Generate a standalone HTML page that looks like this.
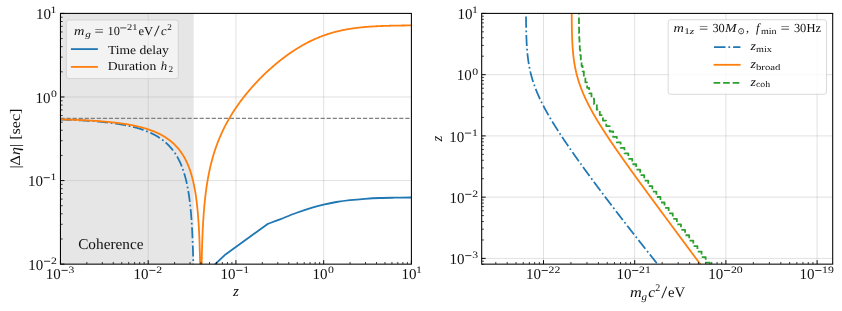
<!DOCTYPE html>
<html><head><meta charset="utf-8"><title>plot</title>
<style>html,body{margin:0;padding:0;background:#fff}body{width:842px;height:311px;overflow:hidden;font-family:"Liberation Serif",serif}</style>
</head><body>
<svg width="842" height="311" viewBox="0 0 842 311" style="display:block;will-change:transform" text-rendering="geometricPrecision">
<defs><clipPath id="c1"><rect x="60.45" y="13.40" width="350.95" height="250.75"/></clipPath><clipPath id="c2"><rect x="481.70" y="13.40" width="351.00" height="250.75"/></clipPath></defs>
<rect width="842" height="311" fill="#fff"/>
<rect x="60.45" y="13.4" width="133.25" height="250.75" fill="#808080" fill-opacity="0.2"/>
<line x1="148.19" y1="13.4" x2="148.19" y2="264.15" stroke="#b0b0b0" stroke-opacity="0.4" stroke-width="0.97"/>
<line x1="235.93" y1="13.4" x2="235.93" y2="264.15" stroke="#b0b0b0" stroke-opacity="0.4" stroke-width="0.97"/>
<line x1="323.66" y1="13.4" x2="323.66" y2="264.15" stroke="#b0b0b0" stroke-opacity="0.4" stroke-width="0.97"/>
<line x1="60.45" y1="180.57" x2="411.4" y2="180.57" stroke="#b0b0b0" stroke-opacity="0.4" stroke-width="0.97"/>
<line x1="60.45" y1="96.98" x2="411.4" y2="96.98" stroke="#b0b0b0" stroke-opacity="0.4" stroke-width="0.97"/>
<line x1="543.50" y1="13.4" x2="543.50" y2="264.15" stroke="#b0b0b0" stroke-opacity="0.4" stroke-width="0.97"/>
<line x1="634.70" y1="13.4" x2="634.70" y2="264.15" stroke="#b0b0b0" stroke-opacity="0.4" stroke-width="0.97"/>
<line x1="725.90" y1="13.4" x2="725.90" y2="264.15" stroke="#b0b0b0" stroke-opacity="0.4" stroke-width="0.97"/>
<line x1="817.10" y1="13.4" x2="817.10" y2="264.15" stroke="#b0b0b0" stroke-opacity="0.4" stroke-width="0.97"/>
<line x1="481.7" y1="258.40" x2="832.7" y2="258.40" stroke="#b0b0b0" stroke-opacity="0.4" stroke-width="0.97"/>
<line x1="481.7" y1="197.15" x2="832.7" y2="197.15" stroke="#b0b0b0" stroke-opacity="0.4" stroke-width="0.97"/>
<line x1="481.7" y1="135.90" x2="832.7" y2="135.90" stroke="#b0b0b0" stroke-opacity="0.4" stroke-width="0.97"/>
<line x1="481.7" y1="74.65" x2="832.7" y2="74.65" stroke="#b0b0b0" stroke-opacity="0.4" stroke-width="0.97"/>
<g clip-path="url(#c1)" fill="none" stroke-width="1.80" stroke-linejoin="round">
<line x1="60.45" y1="118.3" x2="411.4" y2="118.3" stroke="#808080" stroke-width="1.15" stroke-dasharray="4.2 1.85"/>
<path d="M214.4,265.0 L225.5,254.4 L268.0,223.8  C270.00,223.05 275.32,221.10 280.00,219.30 C284.68,217.50 290.73,214.95 296.10,213.00 C301.47,211.05 307.63,209.00 312.20,207.60 C316.77,206.20 319.48,205.53 323.50,204.60 C327.52,203.67 331.88,202.75 336.30,202.00 C340.72,201.25 345.22,200.63 350.00,200.10 C354.78,199.57 360.00,199.15 365.00,198.80 C370.00,198.45 375.00,198.18 380.00,198.00 C385.00,197.82 389.77,197.78 395.00,197.70 C400.23,197.62 408.67,197.53 411.40,197.50" stroke="#1f77b4"/>
<path d="M60.45,119.57 L61.12,119.59 L61.78,119.61 L62.45,119.64 L63.11,119.66 L63.78,119.68 L64.44,119.70 L65.11,119.73 L65.77,119.75 L66.44,119.77 L67.10,119.80 L67.77,119.82 L68.43,119.85 L69.10,119.87 L69.77,119.90 L70.43,119.92 L71.10,119.95 L71.76,119.98 L72.43,120.01 L73.09,120.04 L73.76,120.06 L74.42,120.09 L75.09,120.12 L75.75,120.16 L76.42,120.19 L77.09,120.22 L77.75,120.25 L78.42,120.28 L79.08,120.32 L79.75,120.35 L80.41,120.39 L81.08,120.42 L81.74,120.46 L82.41,120.49 L83.07,120.53 L83.74,120.57 L84.40,120.61 L85.07,120.65 L85.74,120.69 L86.40,120.73 L87.07,120.77 L87.73,120.82 L88.40,120.86 L89.06,120.90 L89.73,120.95 L90.39,120.99 L91.06,121.04 L91.72,121.09 L92.39,121.14 L93.05,121.19 L93.72,121.24 L94.39,121.29 L95.05,121.34 L95.72,121.39 L96.38,121.45 L97.05,121.50 L97.71,121.56 L98.38,121.62 L99.04,121.68 L99.71,121.74 L100.37,121.80 L101.04,121.86 L101.70,121.92 L102.37,121.99 L103.04,122.05 L103.70,122.12 L104.37,122.19 L105.03,122.26 L105.70,122.33 L106.36,122.40 L107.03,122.48 L107.69,122.55 L108.36,122.63 L109.02,122.71 L109.69,122.79 L110.36,122.87 L111.02,122.95 L111.69,123.04 L112.35,123.12 L113.02,123.21 L113.68,123.30 L114.35,123.39 L115.01,123.49 L115.68,123.58 L116.34,123.68 L117.01,123.78 L117.67,123.88 L118.34,123.98 L119.01,124.09 L119.67,124.20 L120.34,124.31 L121.00,124.42 L121.67,124.53 L122.33,124.65 L123.00,124.77 L123.66,124.89 L124.33,125.01 L124.99,125.14 L125.66,125.27 L126.32,125.40 L126.99,125.54 L127.66,125.67 L128.32,125.81 L128.99,125.96 L129.65,126.11 L130.32,126.26 L130.98,126.41 L131.65,126.56 L132.31,126.72 L132.98,126.89 L133.64,127.05 L134.31,127.23 L134.97,127.40 L135.64,127.58 L136.31,127.76 L136.97,127.95 L137.64,128.14 L138.30,128.33 L138.97,128.53 L139.63,128.74 L140.30,128.94 L140.96,129.16 L141.63,129.38 L142.29,129.60 L142.96,129.83 L143.63,130.06 L144.29,130.30 L144.96,130.55 L145.62,130.80 L146.29,131.06 L146.95,131.32 L147.62,131.59 L148.28,131.87 L148.95,132.15 L149.61,132.45 L150.28,132.75 L150.94,133.05 L151.61,133.37 L152.28,133.69 L152.94,134.02 L153.61,134.36 L154.27,134.71 L154.94,135.07 L155.60,135.44 L156.27,135.82 L156.93,136.20 L157.60,136.60 L158.26,137.02 L158.93,137.44 L159.59,137.88 L160.26,138.32 L160.93,138.79 L161.59,139.26 L162.26,139.75 L162.92,140.26 L163.59,140.78 L164.25,141.32 L164.92,141.87 L165.58,142.45 L166.25,143.04 L166.91,143.66 L167.58,144.29 L168.24,144.95 L168.91,145.63 L169.58,146.33 L170.24,147.06 L170.91,147.82 L171.57,148.61 L172.24,149.43 L172.90,150.28 L173.57,151.17 L174.23,152.10 L174.90,153.07 L175.56,154.08 L176.23,155.13 L176.90,156.24 L177.56,157.40 L178.23,158.62 L178.89,159.90 L179.56,161.26 L180.22,162.69 L180.89,164.20 L181.55,165.80 L182.22,167.51 L182.88,169.34 L183.55,171.29 L184.21,173.39 L184.88,175.65 L185.55,178.11 L186.21,180.79 L186.88,183.74 L187.54,187.00 L188.21,190.64 L188.87,194.76 L189.54,199.49 L190.20,205.03 L190.87,211.68 L191.53,219.99 L192.20,230.98 L192.86,247.14 L192.86,247.14 L192.90,248.18 L192.93,249.22 L192.96,250.26 L192.99,251.30 L193.02,252.34 L193.05,253.39 L193.08,254.43 L193.11,255.47 L193.13,256.51 L193.16,257.55 L193.18,258.59 L193.21,259.63 L193.23,260.68 L193.25,261.72 L193.27,262.76 L193.30,263.80 L193.32,264.84 L193.34,265.88 L193.36,266.92 L193.38,267.96 L193.39,269.01 L193.41,270.05 L193.43,271.09 L193.45,272.13 L193.46,273.17 L193.48,274.21 L193.49,275.25 L193.51,276.29 L193.52,277.33 L193.54,278.37 L193.55,279.42 L193.57,280.46 L193.58,281.50 L193.59,282.54 L193.60,283.58 L193.62,284.62 L193.63,285.66 L193.64,286.70 L193.65,287.74 L193.66,288.78 L193.67,289.82 L193.68,290.86 L193.69,291.91 L193.70,292.95 L193.71,293.99 L193.72,295.03 L193.73,296.07 L193.74,297.11 L193.74,298.15 L193.75,299.19 L193.76,300.23 L193.77,301.27 L193.77,302.31 L193.78,303.35 L193.79,304.39 L193.80,305.44 L193.80,306.48 L193.81,307.52 L193.81,308.56 L193.82,309.60 L193.83,310.64 L193.83,311.68 L193.84,312.72 L193.84,313.76 L193.85,314.80 L193.85,315.84 L193.86,316.88 L193.86,317.92 L193.87,318.96 L193.87,320.00 L193.88,321.04 L193.88,322.09 L193.88,323.13 L193.89,324.17 L193.89,325.21 L193.90,326.25 L193.90,327.29 L193.90,328.33 L193.91,329.37 L193.91,330.41 L193.91,331.45 L193.92,332.49 L193.92,333.53 L193.92,334.57 L193.93,335.61 L193.93,336.65 L193.93,337.69 L193.93,338.73 L193.94,339.77 L193.94,340.82 L193.94,341.86 L193.94,342.90 L193.95,343.94 L193.95,344.98 L193.95,346.02 L193.95,347.06 L193.95,348.10 L193.96,349.14 L193.96,350.18 L193.96,351.22 L193.96,352.26 L193.96,353.30 L193.97,354.34 L193.97,355.38 L193.97,356.42 L193.97,357.46 L193.97,358.50 L193.97,359.54 L193.98,360.59 L193.98,361.63 L193.98,362.67 L193.98,363.71 L193.98,364.75 L193.98,365.79 L193.98,366.83 L193.98,367.87 L193.99,368.91 L193.99,369.95 L193.99,370.99 L193.99,372.03 L193.99,373.07 L193.99,374.11 L193.99,375.15 L193.99,376.19 L193.99,377.23 L193.99,378.27 L194.00,379.31 L194.00,380.35 L194.00,381.39 L194.00,382.44 L194.00,383.48 L194.00,384.52 L194.00,385.56 L194.00,386.60 L194.00,387.64 L194.00,388.68 L194.00,389.72 L194.00,390.76 L194.00,391.80 L194.00,392.84 L194.01,393.88 L194.01,394.92 L194.01,395.96 L194.01,397.00 L194.01,398.04 L194.01,399.08 L194.01,400.12 L194.01,401.16 L194.01,402.20 L194.01,403.24 L194.01,404.28 L194.01,405.33 L194.01,406.37 L194.01,407.41 L194.01,408.45 L194.01,409.49 L194.01,410.53 L194.01,411.57 L194.01,412.61 L194.01,413.65 L194.01,414.69 L194.01,415.73 L194.01,416.77 L194.02,417.81 L194.02,418.85 L194.02,419.89 L194.02,420.93 L194.02,421.97 L194.02,423.01 L194.02,424.05 L194.02,425.09 L194.02,426.13 L194.02,427.17 L194.02,428.21 L194.02,429.26 L194.02,430.30 L194.02,431.32 L194.02,431.32 L194.02,431.32 L194.02,431.32 L194.02,431.32 L194.02,431.32 L194.02,431.32 L194.02,431.32 L194.02,431.32 L194.02,431.32 L194.02,431.32 L194.02,431.32 L194.02,431.32 L194.02,431.32 L194.02,431.32 L194.02,431.32 L194.02,431.32 L194.02,431.32 L194.02,431.32 L194.02,431.32 L194.02,431.32 L194.02,431.32 L194.02,431.32" stroke="#1f77b4" stroke-dasharray="11.0 2.75 1.72 2.75" stroke-dashoffset="-0.22" stroke-width="1.75"/>
<path d="M60.45,119.39 L61.15,119.41 L61.85,119.42 L62.56,119.44 L63.26,119.46 L63.96,119.48 L64.66,119.50 L65.36,119.52 L66.07,119.54 L66.77,119.56 L67.47,119.59 L68.17,119.61 L68.87,119.63 L69.57,119.65 L70.28,119.68 L70.98,119.70 L71.68,119.72 L72.38,119.75 L73.08,119.77 L73.79,119.80 L74.49,119.83 L75.19,119.85 L75.89,119.88 L76.59,119.91 L77.30,119.94 L78.00,119.96 L78.70,119.99 L79.40,120.02 L80.10,120.05 L80.81,120.09 L81.51,120.12 L82.21,120.15 L82.91,120.18 L83.61,120.22 L84.31,120.25 L85.02,120.28 L85.72,120.32 L86.42,120.36 L87.12,120.39 L87.82,120.43 L88.53,120.47 L89.23,120.51 L89.93,120.55 L90.63,120.59 L91.33,120.63 L92.04,120.67 L92.74,120.71 L93.44,120.76 L94.14,120.80 L94.84,120.85 L95.55,120.90 L96.25,120.94 L96.95,120.99 L97.65,121.04 L98.35,121.09 L99.06,121.14 L99.76,121.19 L100.46,121.25 L101.16,121.30 L101.86,121.36 L102.56,121.42 L103.27,121.47 L103.97,121.53 L104.67,121.59 L105.37,121.65 L106.07,121.72 L106.78,121.78 L107.48,121.85 L108.18,121.91 L108.88,121.98 L109.58,122.05 L110.29,122.12 L110.99,122.19 L111.69,122.27 L112.39,122.34 L113.09,122.42 L113.80,122.50 L114.50,122.58 L115.20,122.66 L115.90,122.74 L116.60,122.82 L117.30,122.91 L118.01,123.00 L118.71,123.09 L119.41,123.18 L120.11,123.28 L120.81,123.37 L121.52,123.47 L122.22,123.57 L122.92,123.67 L123.62,123.78 L124.32,123.88 L125.03,123.99 L125.73,124.11 L126.43,124.22 L127.13,124.34 L127.83,124.45 L128.54,124.58 L129.24,124.70 L129.94,124.83 L130.64,124.96 L131.34,125.09 L132.04,125.22 L132.75,125.36 L133.45,125.50 L134.15,125.65 L134.85,125.79 L135.55,125.95 L136.26,126.10 L136.96,126.26 L137.66,126.42 L138.36,126.58 L139.06,126.75 L139.77,126.93 L140.47,127.10 L141.17,127.28 L141.87,127.47 L142.57,127.66 L143.28,127.85 L143.98,128.05 L144.68,128.25 L145.38,128.46 L146.08,128.68 L146.78,128.89 L147.49,129.12 L148.19,129.35 L148.89,129.58 L149.59,129.82 L150.29,130.07 L151.00,130.32 L151.70,130.58 L152.40,130.85 L153.10,131.12 L153.80,131.40 L154.51,131.69 L155.21,131.98 L155.91,132.28 L156.61,132.59 L157.31,132.91 L158.02,133.24 L158.72,133.58 L159.42,133.92 L160.12,134.28 L160.82,134.64 L161.53,135.02 L162.23,135.40 L162.93,135.80 L163.63,136.21 L164.33,136.63 L165.03,137.07 L165.74,137.51 L166.44,137.97 L167.14,138.45 L167.84,138.94 L168.54,139.44 L169.25,139.97 L169.95,140.51 L170.65,141.06 L171.35,141.64 L172.05,142.24 L172.76,142.85 L173.46,143.49 L174.16,144.15 L174.86,144.84 L175.56,145.55 L176.27,146.29 L176.97,147.05 L177.67,147.85 L178.37,148.68 L179.07,149.55 L179.77,150.45 L180.48,151.39 L181.18,152.37 L181.88,153.40 L182.58,154.48 L183.28,155.61 L183.99,156.80 L184.69,158.05 L185.39,159.36 L186.09,160.75 L186.79,162.23 L187.50,163.79 L188.20,165.45 L188.90,167.22 L189.60,169.11 L190.30,171.15 L191.01,173.34 L191.71,175.71 L192.41,178.30 L193.11,181.14 L193.81,184.27 L194.51,187.76 L195.22,191.69 L195.92,196.17 L196.62,201.39 L197.32,207.59 L198.02,215.22 L198.73,225.08 L199.43,238.93 L200.13,262.15 L200.13,262.15 L200.13,262.33 L200.14,262.52 L200.14,262.70 L200.15,262.89 L200.15,263.07 L200.15,263.26 L200.16,263.45 L200.16,263.64 L200.17,263.83 L200.17,264.02 L200.17,264.21 L200.18,264.40 L200.18,264.59 L200.18,264.79 L200.19,264.98 L200.19,265.18 L200.20,265.38 L200.20,265.58 L200.20,265.78 L200.21,265.98 L200.21,266.18 L200.22,266.39 L200.22,266.59 L200.22,266.80 L200.23,267.00 L200.23,267.21 L200.24,267.42 L200.24,267.63 L200.24,267.84 L200.25,268.06 L200.25,268.27 L200.25,268.49 L200.26,268.70 L200.26,268.92 L200.27,269.14 L200.27,269.36 L200.27,269.58 L200.28,269.81 L200.28,270.03 L200.29,270.26 L200.29,270.49 L200.29,270.72 L200.30,270.95 L200.30,271.18 L200.30,271.41 L200.31,271.65 L200.31,271.88 L200.32,272.12 L200.32,272.36 L200.32,272.60 L200.33,272.85 L200.33,273.09 L200.34,273.34 L200.34,273.59 L200.34,273.84 L200.35,274.09 L200.35,274.34 L200.36,274.59 L200.36,274.85 L200.36,275.11 L200.37,275.37 L200.37,275.63 L200.37,275.90 L200.38,276.16 L200.38,276.43 L200.39,276.70 L200.39,276.97 L200.39,277.25 L200.40,277.52 L200.40,277.80 L200.41,278.08 L200.41,278.36 L200.41,278.65 L200.42,278.94 L200.42,279.23 L200.42,279.52 L200.43,279.81 L200.43,280.11 L200.44,280.41 L200.44,280.71 L200.44,281.01 L200.45,281.32 L200.45,281.63 L200.46,281.94 L200.46,282.25 L200.46,282.57 L200.47,282.89 L200.47,283.21 L200.47,283.54 L200.48,283.87 L200.48,284.20 L200.49,284.54 L200.49,284.87 L200.49,285.21 L200.50,285.56 L200.50,285.91 L200.51,286.26 L200.51,286.61 L200.51,286.97 L200.52,287.33 L200.52,287.70 L200.52,288.06 L200.53,288.44 L200.53,288.81 L200.54,289.19 L200.54,289.58 L200.54,289.97 L200.55,290.36 L200.55,290.76 L200.56,291.16 L200.56,291.56 L200.56,291.97 L200.57,292.39 L200.57,292.81 L200.57,293.23 L200.58,293.66 L200.58,294.10 L200.59,294.54 L200.59,294.98 L200.59,295.43 L200.60,295.89 L200.60,296.35 L200.61,296.82 L200.61,297.30 L200.61,297.78 L200.62,298.27 L200.62,298.76 L200.62,299.26 L200.63,299.77 L200.63,300.28 L200.64,300.81 L200.64,301.34 L200.64,301.87 L200.65,302.42 L200.65,302.97 L200.66,303.54 L200.66,304.11 L200.66,304.69 L200.67,305.28 L200.67,305.88 L200.67,306.49 L200.68,307.11 L200.68,307.74 L200.69,308.39 L200.69,309.04 L200.69,309.71 L200.70,310.38 L200.70,311.08 L200.71,311.78 L200.71,312.50 L200.71,313.23 L200.72,313.98 L200.72,314.75 L200.72,315.53 L200.73,316.33 L200.73,317.14 L200.74,317.98 L200.74,318.83 L200.74,319.71 L200.75,320.60 L200.75,321.52 L200.75,322.46 L200.76,323.43 L200.76,324.43 L200.77,325.45 L200.77,326.50 L200.77,327.59 L200.78,328.70 L200.78,329.86 L200.79,331.05 L200.79,332.28 L200.79,333.55 L200.80,334.87 L200.80,336.24 L200.80,337.67 L200.81,339.15 L200.81,340.69 L200.82,342.31 L200.82,344.00 L200.82,345.77 L200.83,347.63 L200.83,349.59 L200.84,351.67 L200.84,353.87 L200.84,356.21 L200.85,358.71 L200.85,361.41 L200.85,364.31 L200.86,367.47 L200.86,370.93 L200.87,374.75 L200.87,379.03 L200.87,383.88 L200.88,389.47 L200.88,396.09 L200.88,404.19 L200.89,414.63 L200.89,429.35 L200.90,431.32 L200.90,431.32 L200.90,431.32 L200.91,429.35 L200.91,414.64 L200.92,404.19 L200.92,396.09 L200.92,389.48 L200.93,383.88 L200.93,379.03 L200.93,374.76 L200.94,370.93 L200.94,367.47 L200.95,364.32 L200.95,361.41 L200.95,358.72 L200.96,356.22 L200.96,353.87 L200.96,351.67 L200.97,349.60 L200.97,347.64 L200.98,345.77 L200.98,344.00 L200.98,342.31 L200.99,340.70 L200.99,339.16 L201.00,337.67 L201.00,336.25 L201.00,334.88 L201.01,333.56 L201.01,332.29 L201.01,331.06 L201.02,329.87 L201.02,328.71 L201.03,327.60 L201.03,326.51 L201.03,325.46 L201.04,324.44 L201.04,323.45 L201.04,322.48 L201.05,321.53 L201.05,320.62 L201.06,319.72 L201.06,318.85 L201.06,317.99 L201.07,317.16 L201.07,316.34 L201.07,315.54 L201.08,314.76 L201.08,314.00 L201.09,313.25 L201.09,312.52 L201.09,311.80 L201.10,311.09 L201.10,310.40 L201.11,309.72 L201.11,309.06 L201.11,308.40 L201.12,307.76 L201.12,307.13 L201.12,306.51 L201.13,305.90 L201.13,305.30 L201.14,304.71 L201.14,304.13 L201.14,303.56 L201.15,303.00 L201.15,302.44 L201.15,301.90 L201.16,301.36 L201.16,300.83 L201.17,300.31 L201.17,299.79 L201.17,299.28 L201.18,298.78 L201.18,298.29 L201.18,297.80 L201.19,297.32 L201.19,296.85 L201.20,296.38 L201.20,295.92 L201.20,295.46 L201.21,295.01 L201.21,294.57 L201.21,294.13 L201.22,293.69 L201.22,293.26 L201.23,292.84 L201.23,292.42 L201.23,292.00 L201.24,291.59 L201.24,291.19 L201.25,290.79 L201.25,290.39 L201.25,290.00 L201.26,289.61 L201.26,289.23 L201.26,288.85 L201.27,288.47 L201.27,288.10 L201.28,287.73 L201.28,287.37 L201.28,287.00 L201.29,286.65 L201.29,286.29 L201.29,285.94 L201.30,285.59 L201.30,285.25 L201.31,284.91 L201.31,284.57 L201.31,284.24 L201.32,283.91 L201.32,283.58 L201.32,283.25 L201.33,282.93 L201.33,282.61 L201.34,282.29 L201.34,281.98 L201.34,281.67 L201.35,281.36 L201.35,281.05 L201.35,280.75 L201.36,280.45 L201.36,280.15 L201.37,279.85 L201.37,279.56 L201.37,279.27 L201.38,278.98 L201.38,278.69 L201.38,278.41 L201.39,278.13 L201.39,277.85 L201.40,277.57 L201.40,277.29 L201.40,277.02 L201.41,276.75 L201.41,276.48 L201.41,276.21 L201.42,275.94 L201.42,275.68 L201.43,275.42 L201.43,275.16 L201.43,274.90 L201.44,274.64 L201.44,274.39 L201.44,274.14 L201.45,273.89 L201.45,273.64 L201.46,273.39 L201.46,273.14 L201.46,272.90 L201.47,272.66 L201.47,272.41 L201.47,272.18 L201.48,271.94 L201.48,271.70 L201.49,271.47 L201.49,271.23 L201.49,271.00 L201.50,270.77 L201.50,270.54 L201.50,270.31 L201.51,270.09 L201.51,269.86 L201.52,269.64 L201.52,269.42 L201.52,269.20 L201.53,268.98 L201.53,268.76 L201.53,268.54 L201.54,268.33 L201.54,268.12 L201.55,267.90 L201.55,267.69 L201.55,267.48 L201.56,267.27 L201.56,267.06 L201.56,266.86 L201.57,266.65 L201.57,266.45 L201.58,266.24 L201.58,266.04 L201.58,265.84 L201.59,265.64 L201.59,265.44 L201.59,265.25 L201.60,265.05 L201.60,264.85 L201.61,264.66 L201.61,264.47 L201.61,264.27 L201.62,264.08 L201.62,263.89 L201.62,263.70 L201.63,263.51 L201.63,263.33 L201.64,263.14 L201.64,262.95 L201.64,262.77 L201.65,262.59 L201.65,262.40 L201.65,262.22 L201.65,262.22 L202.18,242.80 L202.71,230.09 L203.23,220.59 L203.76,212.98 L204.28,206.62 L204.81,201.15 L205.33,196.34 L205.86,192.05 L206.39,188.16 L206.91,184.61 L207.44,181.34 L207.96,178.30 L208.49,175.46 L209.01,172.80 L209.54,170.29 L210.07,167.92 L210.59,165.66 L211.12,163.52 L211.64,161.47 L212.17,159.50 L212.69,157.61 L213.22,155.80 L213.75,154.05 L214.27,152.36 L214.80,150.73 L215.32,149.15 L215.85,147.62 L216.37,146.14 L216.90,144.69 L217.42,143.28 L217.95,141.92 L218.48,140.58 L219.00,139.28 L219.53,138.01 L220.05,136.76 L220.58,135.55 L221.10,134.36 L221.63,133.19 L222.16,132.05 L222.68,130.93 L223.21,129.83 L223.73,128.76 L224.26,127.70 L224.78,126.66 L225.31,125.63 L225.84,124.63 L226.36,123.64 L226.89,122.66 L227.41,121.70 L227.94,120.76 L228.46,119.83 L228.99,118.91 L229.52,118.00 L230.04,117.11 L230.57,116.23 L231.09,115.36 L231.62,114.50 L232.14,113.65 L232.67,112.81 L233.20,111.99 L233.72,111.17 L234.25,110.36 L234.77,109.56 L235.30,108.77 L235.82,107.99 L236.35,107.21 L236.87,106.45 L237.40,105.69 L237.93,104.94 L238.45,104.20 L238.98,103.47 L239.50,102.74 L240.03,102.02 L240.55,101.30 L241.08,100.60 L241.61,99.90 L242.13,99.20 L242.66,98.51 L243.18,97.83 L243.71,97.16 L244.23,96.49 L244.76,95.82 L245.29,95.16 L245.81,94.51 L246.34,93.86 L246.86,93.22 L247.39,92.58 L247.91,91.95 L248.44,91.32 L248.97,90.70 L249.49,90.08 L250.02,89.47 L250.54,88.86 L251.07,88.25 L251.59,87.65 L252.12,87.06 L252.65,86.47 L253.17,85.88 L253.70,85.30 L254.22,84.72 L254.75,84.14 L255.27,83.57 L255.80,83.01 L256.33,82.44 L256.85,81.89 L257.38,81.33 L257.90,80.78 L258.43,80.23 L258.95,79.69 L259.48,79.15 L260.00,78.61 L260.53,78.08 L261.06,77.55 L261.58,77.02 L262.11,76.50 L262.63,75.98 L263.16,75.47 L263.68,74.96 L264.21,74.45 L264.74,73.94 L265.26,73.44 L265.79,72.94 L266.31,72.44 L266.84,71.95 L267.36,71.46 L267.89,70.98 L268.42,70.49 L268.94,70.01 L269.47,69.54 L269.99,69.06 L270.52,68.59 L271.04,68.12 L271.57,67.66 L272.10,67.20 L272.62,66.74 L273.15,66.28 L273.67,65.83 L274.20,65.38 L274.72,64.93 L275.25,64.49 L275.78,64.05 L276.30,63.61 L276.83,63.18 L277.35,62.74 L277.88,62.31 L278.40,61.89 L278.93,61.46 L279.45,61.04 L279.98,60.62 L280.51,60.21 L281.03,59.80 L281.56,59.39 L282.08,58.98 L282.61,58.58 L283.13,58.18 L283.66,57.78 L284.19,57.38 L284.71,56.99 L285.24,56.60 L285.76,56.21 L286.29,55.83 L286.81,55.45 L287.34,55.07 L287.87,54.69 L288.39,54.32 L288.92,53.95 L289.44,53.58 L289.97,53.22 L290.49,52.85 L291.02,52.49 L291.55,52.14 L292.07,51.78 L292.60,51.43 L293.12,51.08 L293.65,50.74 L294.17,50.39 L294.70,50.05 L295.23,49.72 L295.75,49.38 L296.28,49.05 L296.80,48.72 L297.33,48.39 L297.85,48.07 L298.38,47.75 L298.90,47.43 L299.43,47.12 L299.96,46.80 L300.48,46.49 L301.01,46.19 L301.53,45.88 L302.06,45.58 L302.58,45.28 L303.11,44.99 L303.64,44.69 L304.16,44.40 L304.69,44.11 L305.21,43.83 L305.74,43.55 L306.26,43.27 L306.79,42.99 L307.32,42.71 L307.84,42.44 L308.37,42.17 L308.89,41.91 L309.42,41.64 L309.94,41.38 L310.47,41.13 L311.00,40.87 L311.52,40.62 L312.05,40.37 L312.57,40.12 L313.10,39.88 L313.62,39.63 L314.15,39.39 L314.68,39.16 L315.20,38.92 L315.73,38.69 L316.25,38.46 L316.78,38.24 L317.30,38.02 L317.83,37.79 L318.36,37.58 L318.88,37.36 L319.41,37.15 L319.93,36.94 L320.46,36.73 L320.98,36.53 L321.51,36.32 L322.03,36.12 L322.56,35.93 L323.09,35.73 L323.61,35.54 L324.14,35.35 L324.66,35.16 L325.19,34.98 L325.71,34.80 L326.24,34.62 L326.77,34.44 L327.29,34.27 L327.82,34.09 L328.34,33.92 L328.87,33.76 L329.39,33.59 L329.92,33.43 L330.45,33.27 L330.97,33.11 L331.50,32.95 L332.02,32.80 L332.55,32.65 L333.07,32.50 L333.60,32.36 L334.13,32.21 L334.65,32.07 L335.18,31.93 L335.70,31.79 L336.23,31.66 L336.75,31.53 L337.28,31.39 L337.81,31.27 L338.33,31.14 L338.86,31.01 L339.38,30.89 L339.91,30.77 L340.43,30.65 L340.96,30.54 L341.48,30.42 L342.01,30.31 L342.54,30.20 L343.06,30.09 L343.59,29.99 L344.11,29.88 L344.64,29.78 L345.16,29.68 L345.69,29.58 L346.22,29.48 L346.74,29.39 L347.27,29.29 L347.79,29.20 L348.32,29.11 L348.84,29.02 L349.37,28.94 L349.90,28.85 L350.42,28.77 L350.95,28.69 L351.47,28.61 L352.00,28.53 L352.52,28.45 L353.05,28.37 L353.58,28.30 L354.10,28.23 L354.63,28.16 L355.15,28.09 L355.68,28.02 L356.20,27.95 L356.73,27.89 L357.26,27.82 L357.78,27.76 L358.31,27.70 L358.83,27.64 L359.36,27.58 L359.88,27.52 L360.41,27.47 L360.93,27.41 L361.46,27.36 L361.99,27.31 L362.51,27.26 L363.04,27.21 L363.56,27.16 L364.09,27.11 L364.61,27.06 L365.14,27.02 L365.67,26.97 L366.19,26.93 L366.72,26.88 L367.24,26.84 L367.77,26.80 L368.29,26.76 L368.82,26.72 L369.35,26.68 L369.87,26.65 L370.40,26.61 L370.92,26.58 L371.45,26.54 L371.97,26.51 L372.50,26.47 L373.03,26.44 L373.55,26.41 L374.08,26.38 L374.60,26.35 L375.13,26.32 L375.65,26.29 L376.18,26.27 L376.71,26.24 L377.23,26.21 L377.76,26.19 L378.28,26.16 L378.81,26.14 L379.33,26.11 L379.86,26.09 L380.39,26.07 L380.91,26.05 L381.44,26.02 L381.96,26.00 L382.49,25.98 L383.01,25.96 L383.54,25.94 L384.06,25.92 L384.59,25.91 L385.12,25.89 L385.64,25.87 L386.17,25.85 L386.69,25.84 L387.22,25.82 L387.74,25.81 L388.27,25.79 L388.80,25.78 L389.32,25.76 L389.85,25.75 L390.37,25.74 L390.90,25.72 L391.42,25.71 L391.95,25.70 L392.48,25.68 L393.00,25.67 L393.53,25.66 L394.05,25.65 L394.58,25.64 L395.10,25.63 L395.63,25.62 L396.16,25.61 L396.68,25.60 L397.21,25.59 L397.73,25.58 L398.26,25.57 L398.78,25.56 L399.31,25.55 L399.84,25.55 L400.36,25.54 L400.89,25.53 L401.41,25.52 L401.94,25.52 L402.46,25.51 L402.99,25.50 L403.51,25.49 L404.04,25.49 L404.57,25.48 L405.09,25.48 L405.62,25.47 L406.14,25.46 L406.67,25.46 L407.19,25.45 L407.72,25.45 L408.25,25.44 L408.77,25.44 L409.30,25.43 L409.82,25.43 L410.35,25.42 L410.87,25.42 L411.40,25.42" stroke="#ff7f0e"/>
</g>
<g clip-path="url(#c2)" fill="none" stroke-width="1.80" stroke-linejoin="round">
<path d="M660.60,267.89 L659.92,267.04 L659.24,266.19 L658.55,265.33 L657.87,264.48 L657.19,263.63 L656.50,262.78 L655.82,261.93 L655.14,261.08 L654.46,260.23 L653.78,259.38 L653.10,258.53 L652.42,257.67 L651.74,256.82 L651.06,255.97 L650.38,255.12 L649.70,254.27 L649.03,253.42 L648.35,252.57 L647.67,251.72 L647.00,250.87 L646.32,250.01 L645.65,249.16 L644.97,248.31 L644.30,247.46 L643.63,246.61 L642.95,245.76 L642.28,244.91 L641.61,244.06 L640.94,243.20 L640.26,242.35 L639.59,241.50 L638.92,240.65 L638.25,239.80 L637.58,238.95 L636.92,238.10 L636.25,237.25 L635.58,236.40 L634.91,235.54 L634.25,234.69 L633.58,233.84 L632.91,232.99 L632.25,232.14 L631.58,231.29 L630.92,230.44 L630.25,229.59 L629.59,228.74 L628.93,227.88 L628.26,227.03 L627.60,226.18 L626.94,225.33 L626.28,224.48 L625.62,223.63 L624.96,222.78 L624.30,221.93 L623.64,221.08 L622.98,220.22 L622.32,219.37 L621.67,218.52 L621.01,217.67 L620.35,216.82 L619.70,215.97 L619.04,215.12 L618.39,214.27 L617.73,213.42 L617.08,212.56 L616.43,211.71 L615.77,210.86 L615.12,210.01 L614.47,209.16 L613.82,208.31 L613.17,207.46 L612.52,206.61 L611.87,205.76 L611.22,204.90 L610.57,204.05 L609.92,203.20 L609.28,202.35 L608.63,201.50 L607.98,200.65 L607.34,199.80 L606.69,198.95 L606.05,198.10 L605.40,197.24 L604.76,196.39 L604.12,195.54 L603.48,194.69 L602.84,193.84 L602.20,192.99 L601.56,192.14 L600.92,191.29 L600.28,190.43 L599.64,189.58 L599.00,188.73 L598.37,187.88 L597.73,187.03 L597.10,186.18 L596.46,185.33 L595.83,184.48 L595.20,183.63 L594.56,182.77 L593.93,181.92 L593.30,181.07 L592.67,180.22 L592.04,179.37 L591.41,178.52 L590.79,177.67 L590.16,176.82 L589.54,175.97 L588.91,175.11 L588.29,174.26 L587.66,173.41 L587.04,172.56 L586.42,171.71 L585.80,170.86 L585.18,170.01 L584.56,169.16 L583.95,168.31 L583.33,167.45 L582.71,166.60 L582.10,165.75 L581.49,164.90 L580.87,164.05 L580.26,163.20 L579.65,162.35 L579.05,161.50 L578.44,160.65 L577.83,159.79 L577.23,158.94 L576.62,158.09 L576.02,157.24 L575.42,156.39 L574.82,155.54 L574.22,154.69 L573.62,153.84 L573.03,152.99 L572.43,152.13 L571.84,151.28 L571.25,150.43 L570.66,149.58 L570.07,148.73 L569.48,147.88 L568.90,147.03 L568.31,146.18 L567.73,145.33 L567.15,144.47 L566.57,143.62 L565.99,142.77 L565.41,141.92 L564.84,141.07 L564.27,140.22 L563.69,139.37 L563.13,138.52 L562.56,137.66 L561.99,136.81 L561.43,135.96 L560.87,135.11 L560.31,134.26 L559.75,133.41 L559.20,132.56 L558.65,131.71 L558.10,130.86 L557.55,130.00 L557.01,129.15 L556.46,128.30 L555.93,127.45 L555.39,126.60 L554.86,125.75 L554.32,124.90 L553.80,124.05 L553.27,123.20 L552.75,122.34 L552.23,121.49 L551.72,120.64 L551.21,119.79 L550.70,118.94 L550.19,118.09 L549.69,117.24 L549.19,116.39 L548.70,115.54 L548.21,114.68 L547.73,113.83 L547.24,112.98 L546.77,112.13 L546.29,111.28 L545.82,110.43 L545.36,109.58 L544.90,108.73 L544.44,107.88 L543.99,107.02 L543.55,106.17 L543.10,105.32 L542.67,104.47 L542.24,103.62 L541.81,102.77 L541.39,101.92 L540.97,101.07 L540.56,100.22 L540.16,99.36 L539.76,98.51 L539.36,97.66 L538.97,96.81 L538.59,95.96 L538.22,95.11 L537.84,94.26 L537.48,93.41 L537.12,92.56 L536.77,91.70 L536.42,90.85 L536.08,90.00 L535.75,89.15 L535.42,88.30 L535.10,87.45 L534.78,86.60 L534.48,85.75 L534.18,84.89 L533.88,84.04 L533.59,83.19 L533.31,82.34 L533.03,81.49 L532.77,80.64 L532.50,79.79 L532.25,78.94 L532.00,78.09 L531.76,77.23 L531.52,76.38 L531.29,75.53 L531.07,74.68 L530.86,73.83 L530.65,72.98 L530.44,72.13 L530.25,71.28 L530.06,70.43 L529.87,69.57 L529.69,68.72 L529.52,67.87 L529.36,67.02 L529.20,66.17 L529.04,65.32 L528.89,64.47 L528.75,63.62 L528.61,62.77 L528.48,61.91 L528.35,61.06 L528.23,60.21 L528.11,59.36 L528.00,58.51 L527.89,57.66 L527.79,56.81 L527.69,55.96 L527.60,55.11 L527.51,54.25 L527.42,53.40 L527.34,52.55 L527.26,51.70 L527.19,50.85 L527.12,50.00 L527.05,49.15 L526.99,48.30 L526.92,47.45 L526.87,46.59 L526.81,45.74 L526.76,44.89 L526.71,44.04 L526.66,43.19 L526.62,42.34 L526.58,41.49 L526.54,40.64 L526.50,39.79 L526.47,38.93 L526.43,38.08 L526.40,37.23 L526.37,36.38 L526.34,35.53 L526.32,34.68 L526.29,33.83 L526.27,32.98 L526.25,32.12 L526.23,31.27 L526.21,30.42 L526.19,29.57 L526.17,28.72 L526.16,27.87 L526.14,27.02 L526.13,26.17 L526.12,25.32 L526.10,24.46 L526.09,23.61 L526.08,22.76 L526.07,21.91 L526.06,21.06 L526.05,20.21 L526.04,19.36 L526.04,18.51 L526.03,17.66 L526.02,16.80 L526.02,15.95 L526.01,15.10 L526.01,14.25 L526.00,13.40" stroke="#1f77b4" stroke-dasharray="11.07 2.77 1.73 2.77" stroke-dashoffset="12.27" stroke-width="1.75"/>
<path d="M703.04,267.89 L702.40,267.04 L701.77,266.19 L701.14,265.33 L700.50,264.48 L699.87,263.63 L699.24,262.78 L698.61,261.93 L697.97,261.08 L697.34,260.23 L696.71,259.38 L696.07,258.53 L695.44,257.67 L694.81,256.82 L694.18,255.97 L693.54,255.12 L692.91,254.27 L692.28,253.42 L691.64,252.57 L691.01,251.72 L690.38,250.87 L689.75,250.01 L689.11,249.16 L688.48,248.31 L687.85,247.46 L687.22,246.61 L686.58,245.76 L685.95,244.91 L685.32,244.06 L684.69,243.20 L684.05,242.35 L683.42,241.50 L682.79,240.65 L682.16,239.80 L681.53,238.95 L680.89,238.10 L680.26,237.25 L679.63,236.40 L679.00,235.54 L678.37,234.69 L677.73,233.84 L677.10,232.99 L676.47,232.14 L675.84,231.29 L675.21,230.44 L674.58,229.59 L673.95,228.74 L673.31,227.88 L672.68,227.03 L672.05,226.18 L671.42,225.33 L670.79,224.48 L670.16,223.63 L669.53,222.78 L668.90,221.93 L668.27,221.08 L667.64,220.22 L667.01,219.37 L666.38,218.52 L665.75,217.67 L665.12,216.82 L664.49,215.97 L663.86,215.12 L663.23,214.27 L662.60,213.42 L661.97,212.56 L661.34,211.71 L660.71,210.86 L660.08,210.01 L659.45,209.16 L658.82,208.31 L658.19,207.46 L657.57,206.61 L656.94,205.76 L656.31,204.90 L655.68,204.05 L655.05,203.20 L654.43,202.35 L653.80,201.50 L653.17,200.65 L652.55,199.80 L651.92,198.95 L651.29,198.10 L650.67,197.24 L650.04,196.39 L649.42,195.54 L648.79,194.69 L648.17,193.84 L647.54,192.99 L646.92,192.14 L646.29,191.29 L645.67,190.43 L645.04,189.58 L644.42,188.73 L643.80,187.88 L643.18,187.03 L642.55,186.18 L641.93,185.33 L641.31,184.48 L640.69,183.63 L640.07,182.77 L639.45,181.92 L638.83,181.07 L638.21,180.22 L637.59,179.37 L636.97,178.52 L636.35,177.67 L635.74,176.82 L635.12,175.97 L634.50,175.11 L633.89,174.26 L633.27,173.41 L632.66,172.56 L632.04,171.71 L631.43,170.86 L630.82,170.01 L630.20,169.16 L629.59,168.31 L628.98,167.45 L628.37,166.60 L627.76,165.75 L627.15,164.90 L626.54,164.05 L625.94,163.20 L625.33,162.35 L624.73,161.50 L624.12,160.65 L623.52,159.79 L622.91,158.94 L622.31,158.09 L621.71,157.24 L621.11,156.39 L620.51,155.54 L619.92,154.69 L619.32,153.84 L618.73,152.99 L618.13,152.13 L617.54,151.28 L616.95,150.43 L616.36,149.58 L615.77,148.73 L615.18,147.88 L614.60,147.03 L614.01,146.18 L613.43,145.33 L612.85,144.47 L612.27,143.62 L611.69,142.77 L611.11,141.92 L610.54,141.07 L609.97,140.22 L609.39,139.37 L608.83,138.52 L608.26,137.66 L607.69,136.81 L607.13,135.96 L606.57,135.11 L606.01,134.26 L605.45,133.41 L604.90,132.56 L604.35,131.71 L603.80,130.86 L603.25,130.00 L602.71,129.15 L602.16,128.30 L601.63,127.45 L601.09,126.60 L600.56,125.75 L600.02,124.90 L599.50,124.05 L598.97,123.20 L598.45,122.34 L597.93,121.49 L597.42,120.64 L596.91,119.79 L596.40,118.94 L595.89,118.09 L595.39,117.24 L594.89,116.39 L594.40,115.54 L593.91,114.68 L593.43,113.83 L592.94,112.98 L592.47,112.13 L591.99,111.28 L591.52,110.43 L591.06,109.58 L590.60,108.73 L590.14,107.88 L589.69,107.02 L589.25,106.17 L588.80,105.32 L588.37,104.47 L587.94,103.62 L587.51,102.77 L587.09,101.92 L586.67,101.07 L586.26,100.22 L585.86,99.36 L585.46,98.51 L585.06,97.66 L584.67,96.81 L584.29,95.96 L583.92,95.11 L583.54,94.26 L583.18,93.41 L582.82,92.56 L582.47,91.70 L582.12,90.85 L581.78,90.00 L581.45,89.15 L581.12,88.30 L580.80,87.45 L580.48,86.60 L580.18,85.75 L579.88,84.89 L579.58,84.04 L579.29,83.19 L579.01,82.34 L578.73,81.49 L578.47,80.64 L578.20,79.79 L577.95,78.94 L577.70,78.09 L577.46,77.23 L577.22,76.38 L576.99,75.53 L576.77,74.68 L576.56,73.83 L576.35,72.98 L576.14,72.13 L575.95,71.28 L575.76,70.43 L575.57,69.57 L575.39,68.72 L575.22,67.87 L575.06,67.02 L574.90,66.17 L574.74,65.32 L574.59,64.47 L574.45,63.62 L574.31,62.77 L574.18,61.91 L574.05,61.06 L573.93,60.21 L573.81,59.36 L573.70,58.51 L573.59,57.66 L573.49,56.81 L573.39,55.96 L573.30,55.11 L573.21,54.25 L573.12,53.40 L573.04,52.55 L572.96,51.70 L572.89,50.85 L572.82,50.00 L572.75,49.15 L572.69,48.30 L572.62,47.45 L572.57,46.59 L572.51,45.74 L572.46,44.89 L572.41,44.04 L572.36,43.19 L572.32,42.34 L572.28,41.49 L572.24,40.64 L572.20,39.79 L572.17,38.93 L572.13,38.08 L572.10,37.23 L572.07,36.38 L572.04,35.53 L572.02,34.68 L571.99,33.83 L571.97,32.98 L571.95,32.12 L571.93,31.27 L571.91,30.42 L571.89,29.57 L571.87,28.72 L571.86,27.87 L571.84,27.02 L571.83,26.17 L571.82,25.32 L571.80,24.46 L571.79,23.61 L571.78,22.76 L571.77,21.91 L571.76,21.06 L571.75,20.21 L571.74,19.36 L571.74,18.51 L571.73,17.66 L571.72,16.80 L571.72,15.95 L571.71,15.10 L571.71,14.25 L571.70,13.40" stroke="#ff7f0e"/>
<path d="M578.88,8.00 L578.90,11.38 L578.90,16.84 L578.95,16.84 L578.95,22.30 L579.01,22.30 L579.01,27.76 L579.11,27.76 L579.11,33.22 L579.26,33.22 L579.26,38.68 L579.47,38.68 L579.47,44.14 L579.79,44.14 L579.79,49.60 L580.22,49.60 L580.22,55.06 L580.81,55.06 L580.81,60.52 L581.59,60.52 L581.59,65.98 L582.59,65.98 L582.59,71.44 L583.84,71.44 L583.84,76.90 L585.36,76.90 L585.36,82.36 L587.14,82.36 L587.14,87.82 L589.20,87.82 L589.20,93.28 L591.51,93.28 L591.51,98.74 L594.07,98.74 L594.07,104.20 L596.84,104.20 L596.84,109.66 L599.81,109.66 L599.81,115.12 L602.95,115.12 L602.95,120.58 L606.24,120.58 L606.24,126.04 L609.66,126.04 L609.66,131.50 L613.19,131.50 L613.19,136.96 L616.87,136.96 L616.87,142.42 L620.63,142.42 L620.63,147.88 L624.45,147.88 L624.45,153.34 L628.33,153.34 L628.33,158.80 L632.26,158.80 L632.26,164.26 L636.22,164.26 L636.22,169.72 L640.21,169.72 L640.21,175.18 L644.23,175.18 L644.23,180.64 L648.27,180.64 L648.27,186.10 L652.32,186.10 L652.32,191.56 L656.39,191.56 L656.39,197.02 L660.47,197.02 L660.47,202.48 L664.56,202.48 L664.56,207.94 L668.65,207.94 L668.65,213.40 L672.75,213.40 L672.75,218.86 L676.86,218.86 L676.86,224.32 L680.97,224.32 L680.97,229.78 L685.08,229.78 L685.08,235.24 L689.20,235.24 L689.20,240.70 L693.32,240.70 L693.32,246.16 L697.44,246.16 L697.44,251.62 L701.56,251.62 L701.56,257.08 L705.69,257.08 L705.69,262.54 L709.81,262.54 L709.81,268.00 L713.94,268.00" stroke="#2ca02c" stroke-dasharray="6.66 2.88" stroke-dashoffset="0.1"/>
</g>
<g stroke="#000"><line x1="60.45" y1="264.15" x2="60.45" y2="260.15" stroke-width="0.95"/><line x1="86.86" y1="264.15" x2="86.86" y2="261.95" stroke-width="0.75"/><line x1="102.31" y1="264.15" x2="102.31" y2="261.95" stroke-width="0.75"/><line x1="113.27" y1="264.15" x2="113.27" y2="261.95" stroke-width="0.75"/><line x1="121.78" y1="264.15" x2="121.78" y2="261.95" stroke-width="0.75"/><line x1="128.72" y1="264.15" x2="128.72" y2="261.95" stroke-width="0.75"/><line x1="134.60" y1="264.15" x2="134.60" y2="261.95" stroke-width="0.75"/><line x1="139.68" y1="264.15" x2="139.68" y2="261.95" stroke-width="0.75"/><line x1="144.17" y1="264.15" x2="144.17" y2="261.95" stroke-width="0.75"/><line x1="148.19" y1="264.15" x2="148.19" y2="260.15" stroke-width="0.95"/><line x1="174.60" y1="264.15" x2="174.60" y2="261.95" stroke-width="0.75"/><line x1="190.05" y1="264.15" x2="190.05" y2="261.95" stroke-width="0.75"/><line x1="201.01" y1="264.15" x2="201.01" y2="261.95" stroke-width="0.75"/><line x1="209.51" y1="264.15" x2="209.51" y2="261.95" stroke-width="0.75"/><line x1="216.46" y1="264.15" x2="216.46" y2="261.95" stroke-width="0.75"/><line x1="222.33" y1="264.15" x2="222.33" y2="261.95" stroke-width="0.75"/><line x1="227.42" y1="264.15" x2="227.42" y2="261.95" stroke-width="0.75"/><line x1="231.91" y1="264.15" x2="231.91" y2="261.95" stroke-width="0.75"/><line x1="235.93" y1="264.15" x2="235.93" y2="260.15" stroke-width="0.95"/><line x1="262.34" y1="264.15" x2="262.34" y2="261.95" stroke-width="0.75"/><line x1="277.79" y1="264.15" x2="277.79" y2="261.95" stroke-width="0.75"/><line x1="288.75" y1="264.15" x2="288.75" y2="261.95" stroke-width="0.75"/><line x1="297.25" y1="264.15" x2="297.25" y2="261.95" stroke-width="0.75"/><line x1="304.20" y1="264.15" x2="304.20" y2="261.95" stroke-width="0.75"/><line x1="310.07" y1="264.15" x2="310.07" y2="261.95" stroke-width="0.75"/><line x1="315.16" y1="264.15" x2="315.16" y2="261.95" stroke-width="0.75"/><line x1="319.65" y1="264.15" x2="319.65" y2="261.95" stroke-width="0.75"/><line x1="323.66" y1="264.15" x2="323.66" y2="260.15" stroke-width="0.95"/><line x1="350.07" y1="264.15" x2="350.07" y2="261.95" stroke-width="0.75"/><line x1="365.52" y1="264.15" x2="365.52" y2="261.95" stroke-width="0.75"/><line x1="376.49" y1="264.15" x2="376.49" y2="261.95" stroke-width="0.75"/><line x1="384.99" y1="264.15" x2="384.99" y2="261.95" stroke-width="0.75"/><line x1="391.94" y1="264.15" x2="391.94" y2="261.95" stroke-width="0.75"/><line x1="397.81" y1="264.15" x2="397.81" y2="261.95" stroke-width="0.75"/><line x1="402.90" y1="264.15" x2="402.90" y2="261.95" stroke-width="0.75"/><line x1="407.39" y1="264.15" x2="407.39" y2="261.95" stroke-width="0.75"/><line x1="411.40" y1="264.15" x2="411.40" y2="260.15" stroke-width="0.95"/><line x1="60.45" y1="264.15" x2="64.45" y2="264.15" stroke-width="0.95"/><line x1="60.45" y1="238.99" x2="62.650000000000006" y2="238.99" stroke-width="0.75"/><line x1="60.45" y1="224.27" x2="62.650000000000006" y2="224.27" stroke-width="0.75"/><line x1="60.45" y1="213.83" x2="62.650000000000006" y2="213.83" stroke-width="0.75"/><line x1="60.45" y1="205.73" x2="62.650000000000006" y2="205.73" stroke-width="0.75"/><line x1="60.45" y1="199.11" x2="62.650000000000006" y2="199.11" stroke-width="0.75"/><line x1="60.45" y1="193.51" x2="62.650000000000006" y2="193.51" stroke-width="0.75"/><line x1="60.45" y1="188.67" x2="62.650000000000006" y2="188.67" stroke-width="0.75"/><line x1="60.45" y1="184.39" x2="62.650000000000006" y2="184.39" stroke-width="0.75"/><line x1="60.45" y1="180.57" x2="64.45" y2="180.57" stroke-width="0.95"/><line x1="60.45" y1="155.41" x2="62.650000000000006" y2="155.41" stroke-width="0.75"/><line x1="60.45" y1="140.69" x2="62.650000000000006" y2="140.69" stroke-width="0.75"/><line x1="60.45" y1="130.24" x2="62.650000000000006" y2="130.24" stroke-width="0.75"/><line x1="60.45" y1="122.14" x2="62.650000000000006" y2="122.14" stroke-width="0.75"/><line x1="60.45" y1="115.53" x2="62.650000000000006" y2="115.53" stroke-width="0.75"/><line x1="60.45" y1="109.93" x2="62.650000000000006" y2="109.93" stroke-width="0.75"/><line x1="60.45" y1="105.08" x2="62.650000000000006" y2="105.08" stroke-width="0.75"/><line x1="60.45" y1="100.81" x2="62.650000000000006" y2="100.81" stroke-width="0.75"/><line x1="60.45" y1="96.98" x2="64.45" y2="96.98" stroke-width="0.95"/><line x1="60.45" y1="71.82" x2="62.650000000000006" y2="71.82" stroke-width="0.75"/><line x1="60.45" y1="57.10" x2="62.650000000000006" y2="57.10" stroke-width="0.75"/><line x1="60.45" y1="46.66" x2="62.650000000000006" y2="46.66" stroke-width="0.75"/><line x1="60.45" y1="38.56" x2="62.650000000000006" y2="38.56" stroke-width="0.75"/><line x1="60.45" y1="31.94" x2="62.650000000000006" y2="31.94" stroke-width="0.75"/><line x1="60.45" y1="26.35" x2="62.650000000000006" y2="26.35" stroke-width="0.75"/><line x1="60.45" y1="21.50" x2="62.650000000000006" y2="21.50" stroke-width="0.75"/><line x1="60.45" y1="17.22" x2="62.650000000000006" y2="17.22" stroke-width="0.75"/><line x1="60.45" y1="13.40" x2="64.45" y2="13.40" stroke-width="0.95"/><line x1="495.81" y1="264.15" x2="495.81" y2="261.95" stroke-width="0.75"/><line x1="507.21" y1="264.15" x2="507.21" y2="261.95" stroke-width="0.75"/><line x1="516.05" y1="264.15" x2="516.05" y2="261.95" stroke-width="0.75"/><line x1="523.27" y1="264.15" x2="523.27" y2="261.95" stroke-width="0.75"/><line x1="529.37" y1="264.15" x2="529.37" y2="261.95" stroke-width="0.75"/><line x1="534.66" y1="264.15" x2="534.66" y2="261.95" stroke-width="0.75"/><line x1="539.33" y1="264.15" x2="539.33" y2="261.95" stroke-width="0.75"/><line x1="543.50" y1="264.15" x2="543.50" y2="260.15" stroke-width="0.95"/><line x1="570.95" y1="264.15" x2="570.95" y2="261.95" stroke-width="0.75"/><line x1="587.01" y1="264.15" x2="587.01" y2="261.95" stroke-width="0.75"/><line x1="598.41" y1="264.15" x2="598.41" y2="261.95" stroke-width="0.75"/><line x1="607.25" y1="264.15" x2="607.25" y2="261.95" stroke-width="0.75"/><line x1="614.47" y1="264.15" x2="614.47" y2="261.95" stroke-width="0.75"/><line x1="620.57" y1="264.15" x2="620.57" y2="261.95" stroke-width="0.75"/><line x1="625.86" y1="264.15" x2="625.86" y2="261.95" stroke-width="0.75"/><line x1="630.53" y1="264.15" x2="630.53" y2="261.95" stroke-width="0.75"/><line x1="634.70" y1="264.15" x2="634.70" y2="260.15" stroke-width="0.95"/><line x1="662.15" y1="264.15" x2="662.15" y2="261.95" stroke-width="0.75"/><line x1="678.21" y1="264.15" x2="678.21" y2="261.95" stroke-width="0.75"/><line x1="689.61" y1="264.15" x2="689.61" y2="261.95" stroke-width="0.75"/><line x1="698.45" y1="264.15" x2="698.45" y2="261.95" stroke-width="0.75"/><line x1="705.67" y1="264.15" x2="705.67" y2="261.95" stroke-width="0.75"/><line x1="711.77" y1="264.15" x2="711.77" y2="261.95" stroke-width="0.75"/><line x1="717.06" y1="264.15" x2="717.06" y2="261.95" stroke-width="0.75"/><line x1="721.73" y1="264.15" x2="721.73" y2="261.95" stroke-width="0.75"/><line x1="725.90" y1="264.15" x2="725.90" y2="260.15" stroke-width="0.95"/><line x1="753.35" y1="264.15" x2="753.35" y2="261.95" stroke-width="0.75"/><line x1="769.41" y1="264.15" x2="769.41" y2="261.95" stroke-width="0.75"/><line x1="780.81" y1="264.15" x2="780.81" y2="261.95" stroke-width="0.75"/><line x1="789.65" y1="264.15" x2="789.65" y2="261.95" stroke-width="0.75"/><line x1="796.87" y1="264.15" x2="796.87" y2="261.95" stroke-width="0.75"/><line x1="802.97" y1="264.15" x2="802.97" y2="261.95" stroke-width="0.75"/><line x1="808.26" y1="264.15" x2="808.26" y2="261.95" stroke-width="0.75"/><line x1="812.93" y1="264.15" x2="812.93" y2="261.95" stroke-width="0.75"/><line x1="817.10" y1="264.15" x2="817.10" y2="260.15" stroke-width="0.95"/><line x1="481.7" y1="264.34" x2="483.9" y2="264.34" stroke-width="0.75"/><line x1="481.7" y1="261.20" x2="483.9" y2="261.20" stroke-width="0.75"/><line x1="481.7" y1="258.40" x2="485.7" y2="258.40" stroke-width="0.95"/><line x1="481.7" y1="239.96" x2="483.9" y2="239.96" stroke-width="0.75"/><line x1="481.7" y1="229.18" x2="483.9" y2="229.18" stroke-width="0.75"/><line x1="481.7" y1="221.52" x2="483.9" y2="221.52" stroke-width="0.75"/><line x1="481.7" y1="215.59" x2="483.9" y2="215.59" stroke-width="0.75"/><line x1="481.7" y1="210.74" x2="483.9" y2="210.74" stroke-width="0.75"/><line x1="481.7" y1="206.64" x2="483.9" y2="206.64" stroke-width="0.75"/><line x1="481.7" y1="203.09" x2="483.9" y2="203.09" stroke-width="0.75"/><line x1="481.7" y1="199.95" x2="483.9" y2="199.95" stroke-width="0.75"/><line x1="481.7" y1="197.15" x2="485.7" y2="197.15" stroke-width="0.95"/><line x1="481.7" y1="178.71" x2="483.9" y2="178.71" stroke-width="0.75"/><line x1="481.7" y1="167.93" x2="483.9" y2="167.93" stroke-width="0.75"/><line x1="481.7" y1="160.27" x2="483.9" y2="160.27" stroke-width="0.75"/><line x1="481.7" y1="154.34" x2="483.9" y2="154.34" stroke-width="0.75"/><line x1="481.7" y1="149.49" x2="483.9" y2="149.49" stroke-width="0.75"/><line x1="481.7" y1="145.39" x2="483.9" y2="145.39" stroke-width="0.75"/><line x1="481.7" y1="141.84" x2="483.9" y2="141.84" stroke-width="0.75"/><line x1="481.7" y1="138.70" x2="483.9" y2="138.70" stroke-width="0.75"/><line x1="481.7" y1="135.90" x2="485.7" y2="135.90" stroke-width="0.95"/><line x1="481.7" y1="117.46" x2="483.9" y2="117.46" stroke-width="0.75"/><line x1="481.7" y1="106.68" x2="483.9" y2="106.68" stroke-width="0.75"/><line x1="481.7" y1="99.02" x2="483.9" y2="99.02" stroke-width="0.75"/><line x1="481.7" y1="93.09" x2="483.9" y2="93.09" stroke-width="0.75"/><line x1="481.7" y1="88.24" x2="483.9" y2="88.24" stroke-width="0.75"/><line x1="481.7" y1="84.14" x2="483.9" y2="84.14" stroke-width="0.75"/><line x1="481.7" y1="80.59" x2="483.9" y2="80.59" stroke-width="0.75"/><line x1="481.7" y1="77.45" x2="483.9" y2="77.45" stroke-width="0.75"/><line x1="481.7" y1="74.65" x2="485.7" y2="74.65" stroke-width="0.95"/><line x1="481.7" y1="56.21" x2="483.9" y2="56.21" stroke-width="0.75"/><line x1="481.7" y1="45.43" x2="483.9" y2="45.43" stroke-width="0.75"/><line x1="481.7" y1="37.77" x2="483.9" y2="37.77" stroke-width="0.75"/><line x1="481.7" y1="31.84" x2="483.9" y2="31.84" stroke-width="0.75"/><line x1="481.7" y1="26.99" x2="483.9" y2="26.99" stroke-width="0.75"/><line x1="481.7" y1="22.89" x2="483.9" y2="22.89" stroke-width="0.75"/><line x1="481.7" y1="19.34" x2="483.9" y2="19.34" stroke-width="0.75"/><line x1="481.7" y1="16.20" x2="483.9" y2="16.20" stroke-width="0.75"/><line x1="481.7" y1="13.40" x2="485.7" y2="13.40" stroke-width="0.95"/></g>
<rect x="60.45" y="13.4" width="350.95" height="250.75" fill="none" stroke="#000" stroke-width="1.05"/>
<rect x="481.7" y="13.4" width="351.00" height="250.75" fill="none" stroke="#000" stroke-width="1.05"/>
<g font-family="'Liberation Serif', serif" fill="#111"><text x="50.9" y="263.8" font-size="9.8" textLength="5.9" lengthAdjust="spacingAndGlyphs">2</text><text x="28.2" y="269.6" font-size="15.0">10</text><text x="50.6" y="180.3" font-size="9.8" textLength="5.9" lengthAdjust="spacingAndGlyphs">1</text><text x="27.9" y="186.1" font-size="15.0">10</text><text x="50.9" y="96.7" font-size="9.8" textLength="5.9" lengthAdjust="spacingAndGlyphs">0</text><text x="35.5" y="102.5" font-size="15.0">10</text><text x="50.6" y="13.1" font-size="9.8" textLength="5.9" lengthAdjust="spacingAndGlyphs">1</text><text x="36.0" y="18.9" font-size="15.0">10</text><text x="68.4" y="273.0" font-size="9.8" textLength="5.9" lengthAdjust="spacingAndGlyphs">3</text><text x="45.8" y="278.8" font-size="15.0">10</text><text x="156.2" y="273.0" font-size="9.8" textLength="5.9" lengthAdjust="spacingAndGlyphs">2</text><text x="133.5" y="278.8" font-size="15.0">10</text><text x="243.2" y="273.0" font-size="9.8" textLength="5.9" lengthAdjust="spacingAndGlyphs">1</text><text x="220.5" y="278.8" font-size="15.0">10</text><text x="328.0" y="273.0" font-size="9.8" textLength="5.9" lengthAdjust="spacingAndGlyphs">0</text><text x="312.6" y="278.8" font-size="15.0">10</text><text x="416.1" y="273.0" font-size="9.8" textLength="5.9" lengthAdjust="spacingAndGlyphs">1</text><text x="401.5" y="278.8" font-size="15.0">10</text><text x="472.2" y="258.2" font-size="9.8" textLength="5.9" lengthAdjust="spacingAndGlyphs">3</text><text x="449.5" y="264.0" font-size="15.0">10</text><text x="472.2" y="196.9" font-size="9.8" textLength="5.9" lengthAdjust="spacingAndGlyphs">2</text><text x="449.5" y="202.8" font-size="15.0">10</text><text x="471.9" y="135.7" font-size="9.8" textLength="5.9" lengthAdjust="spacingAndGlyphs">1</text><text x="449.2" y="141.5" font-size="15.0">10</text><text x="472.2" y="74.5" font-size="9.8" textLength="5.9" lengthAdjust="spacingAndGlyphs">0</text><text x="456.8" y="80.2" font-size="15.0">10</text><text x="472.0" y="13.2" font-size="9.8" textLength="5.9" lengthAdjust="spacingAndGlyphs">1</text><text x="457.4" y="19.0" font-size="15.0">10</text><text x="548.5" y="273.1" font-size="9.8" textLength="11.8" lengthAdjust="spacingAndGlyphs">22</text><text x="525.9" y="278.9" font-size="15.0">10</text><text x="639.0" y="273.1" font-size="9.8" textLength="11.8" lengthAdjust="spacingAndGlyphs">21</text><text x="616.4" y="278.9" font-size="15.0">10</text><text x="730.9" y="273.1" font-size="9.8" textLength="11.8" lengthAdjust="spacingAndGlyphs">20</text><text x="708.3" y="278.9" font-size="15.0">10</text><text x="822.1" y="273.1" font-size="9.8" textLength="11.8" lengthAdjust="spacingAndGlyphs">19</text><text x="799.5" y="278.9" font-size="15.0">10</text><text x="235.9" y="296.0" font-size="15" text-anchor="middle" font-style="italic">z</text><text x="630.0" y="297.0" font-size="14.5" font-style="italic" textLength="11.8" lengthAdjust="spacingAndGlyphs">m</text><text x="641.6" y="299.8" font-size="10.2" font-style="italic" textLength="5.5" lengthAdjust="spacingAndGlyphs">g</text><text x="648.3" y="297.0" font-size="14.5" font-style="italic" textLength="6.7" lengthAdjust="spacingAndGlyphs">c</text><text x="655.3" y="291.3" font-size="10.2" textLength="5.0" lengthAdjust="spacingAndGlyphs">2</text><text x="661.2" y="297.8" font-size="17.5" textLength="6.0" lengthAdjust="spacingAndGlyphs">/</text><text x="667.9" y="297.0" font-size="14.5" textLength="17.3" lengthAdjust="spacingAndGlyphs">eV</text><g transform="translate(19.8,138.6) rotate(-90)"><text x="0.0" y="0.0" font-size="14.5" text-anchor="middle" textLength="60.0" lengthAdjust="spacingAndGlyphs">|Δ<tspan font-style="italic">η</tspan>| [sec]</text></g><g transform="translate(441.8,138.6) rotate(-90)"><text x="0.0" y="0.0" font-size="15" text-anchor="middle" font-style="italic">z</text></g><text x="78.2" y="249.4" font-size="15" textLength="65.3" lengthAdjust="spacingAndGlyphs">Coherence</text></g>
<g stroke="#000" stroke-width="0.8"><line x1="43.95" y1="261.25" x2="50.15" y2="261.25"/><line x1="43.65" y1="177.67" x2="49.85" y2="177.67"/><line x1="61.51" y1="270.40" x2="67.71" y2="270.40"/><line x1="149.25" y1="270.40" x2="155.45" y2="270.40"/><line x1="236.29" y1="270.40" x2="242.49" y2="270.40"/><line x1="465.25" y1="255.60" x2="471.45" y2="255.60"/><line x1="465.25" y1="194.35" x2="471.45" y2="194.35"/><line x1="464.95" y1="133.10" x2="471.15" y2="133.10"/><line x1="541.61" y1="270.50" x2="547.81" y2="270.50"/><line x1="632.11" y1="270.50" x2="638.31" y2="270.50"/><line x1="724.01" y1="270.50" x2="730.21" y2="270.50"/><line x1="815.21" y1="270.50" x2="821.41" y2="270.50"/></g>
<rect x="66.4" y="20" width="111.9" height="58.6" rx="2.4" fill="#fff" fill-opacity="0.5" stroke="#ccc" stroke-opacity="0.8" stroke-width="0.9"/><line x1="70.9" y1="49.1" x2="97.9" y2="49.1" stroke="#1f77b4" stroke-width="1.8"/><line x1="70.9" y1="66.9" x2="97.9" y2="66.9" stroke="#ff7f0e" stroke-width="1.8"/><rect x="668.2" y="19.7" width="158.3" height="74.6" rx="2.4" fill="#fff" fill-opacity="0.8" stroke="#ccc" stroke-opacity="0.8" stroke-width="0.9"/><line x1="714.0" y1="47.2" x2="740.4" y2="47.2" stroke="#1f77b4" stroke-width="1.8" stroke-dasharray="11.52 2.88 1.8 2.88"/><line x1="713.6" y1="64.8" x2="740.6" y2="64.8" stroke="#ff7f0e" stroke-width="1.8"/><line x1="713.6" y1="82.8" x2="740.6" y2="82.8" stroke="#2ca02c" stroke-width="1.8" stroke-dasharray="6.66 2.88"/>
<g font-family="'Liberation Serif', serif" fill="#111"><text x="74.0" y="35.0" font-size="12.3" font-style="italic" textLength="10.4" lengthAdjust="spacingAndGlyphs">m</text><text x="85.2" y="36.9" font-size="8.8" font-style="italic" textLength="5.6" lengthAdjust="spacingAndGlyphs">g</text><text x="94.6" y="35.0" font-size="12.3" textLength="9.3" lengthAdjust="spacingAndGlyphs">=</text><text x="107.5" y="35.0" font-size="12.3">10</text><text x="127.0" y="30.2" font-size="8.8" textLength="10.4" lengthAdjust="spacingAndGlyphs">21</text><text x="138.4" y="35.0" font-size="12.3" textLength="14.7" lengthAdjust="spacingAndGlyphs">eV</text><text x="153.9" y="35.6" font-size="15.5" textLength="5.6" lengthAdjust="spacingAndGlyphs">/</text><text x="160.9" y="35.0" font-size="12.3" font-style="italic" textLength="5.6" lengthAdjust="spacingAndGlyphs">c</text><text x="167.2" y="30.2" font-size="8.8" textLength="4.6" lengthAdjust="spacingAndGlyphs">2</text><text x="107.9" y="53.7" font-size="12.3" textLength="61.0" lengthAdjust="spacingAndGlyphs">Time delay</text><text x="107.7" y="70.1" font-size="12.3" textLength="48.6" lengthAdjust="spacingAndGlyphs">Duration</text><text x="160.8" y="70.1" font-size="12.3" font-style="italic" textLength="6.4" lengthAdjust="spacingAndGlyphs">h</text><text x="168.4" y="72.0" font-size="8.8" textLength="4.6" lengthAdjust="spacingAndGlyphs">2</text><text x="673.6" y="32.0" font-size="12.3" font-style="italic" textLength="10.4" lengthAdjust="spacingAndGlyphs">m</text><text x="684.3" y="34.0" font-size="8.8" textLength="9.9" lengthAdjust="spacingAndGlyphs">1<tspan font-style="italic">z</tspan></text><text x="699.0" y="32.0" font-size="12.3" textLength="9.3" lengthAdjust="spacingAndGlyphs">=</text><text x="712.4" y="32.0" font-size="12.3" textLength="12.4" lengthAdjust="spacingAndGlyphs">30</text><text x="725.0" y="32.0" font-size="12.3" font-style="italic" textLength="11.6" lengthAdjust="spacingAndGlyphs">M</text><text x="737.6" y="34.3" font-size="8.8" textLength="7.4" lengthAdjust="spacingAndGlyphs">⊙</text><text x="745.9" y="32.0" font-size="12.3">,</text><text x="756.0" y="32.0" font-size="12.3" font-style="italic">f</text><text x="760.9" y="34.0" font-size="8.8" textLength="15.6" lengthAdjust="spacingAndGlyphs">min</text><text x="780.4" y="32.0" font-size="12.3" textLength="9.3" lengthAdjust="spacingAndGlyphs">=</text><text x="793.9" y="32.0" font-size="12.3" textLength="12.4" lengthAdjust="spacingAndGlyphs">30</text><text x="806.4" y="32.0" font-size="12.3" textLength="14.6" lengthAdjust="spacingAndGlyphs">Hz</text><text x="750.4" y="50.2" font-size="12.3" font-style="italic" textLength="5.4" lengthAdjust="spacingAndGlyphs">z</text><text x="756.0" y="51.9" font-size="8.8" textLength="15.8" lengthAdjust="spacingAndGlyphs">mix</text><text x="750.4" y="67.9" font-size="12.3" font-style="italic" textLength="5.4" lengthAdjust="spacingAndGlyphs">z</text><text x="756.0" y="69.6" font-size="8.8" textLength="24.4" lengthAdjust="spacingAndGlyphs">broad</text><text x="750.4" y="85.7" font-size="12.3" font-style="italic" textLength="5.4" lengthAdjust="spacingAndGlyphs">z</text><text x="756.0" y="87.4" font-size="8.8" textLength="14.2" lengthAdjust="spacingAndGlyphs">coh</text></g>
<g stroke="#000" stroke-width="0.7"><line x1="120.2" y1="27.9" x2="126.3" y2="27.9"/></g>
</svg>
</body></html>
